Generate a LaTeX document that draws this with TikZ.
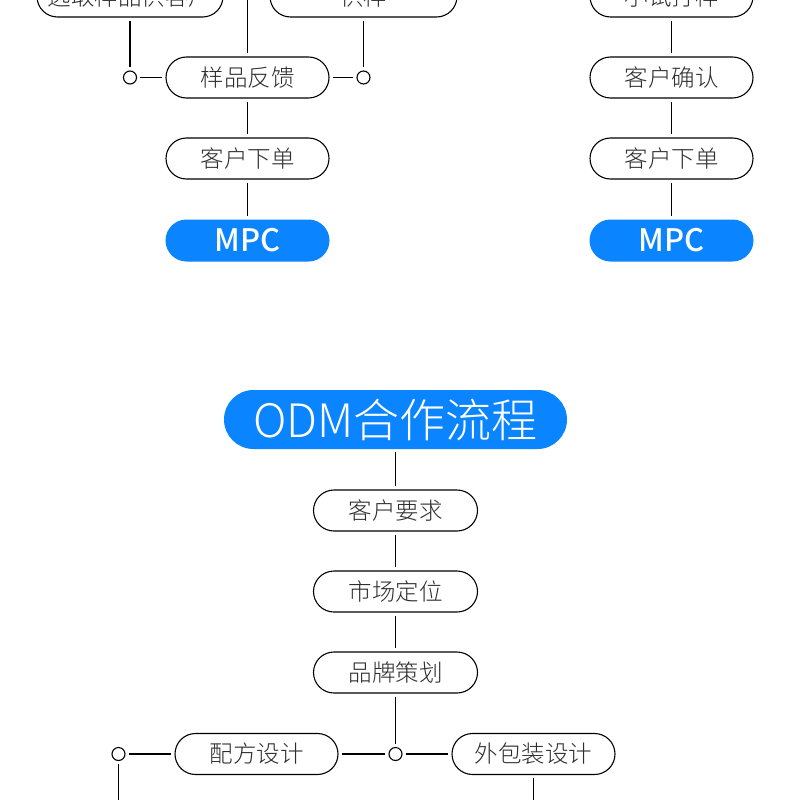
\documentclass[tikz,border=0pt]{standalone}
\usepackage{fontspec}
\setmainfont{Noto Sans CJK SC}
\newfontfamily\lightcjk{Noto Sans CJK SC Light}
\newfontfamily\mediumcjk{Noto Sans CJK SC Medium}
\usetikzlibrary{positioning}
\definecolor{odmblue}{RGB}{10, 132, 255}
\definecolor{labelgray}{RGB}{45, 45, 45}

\begin{document}
\begin{tikzpicture}[x=1pt, y=-1pt]
    \tikzstyle{stage} = [rectangle, rounded corners=20.5pt, minimum width=163pt, minimum height=41pt, inner sep=0pt, text centered, draw=black, line width=1.1pt, text=labelgray, font=\fontsize{23.5}{23.5}\selectfont\lightcjk]
    \tikzstyle{final} = [rectangle, rounded corners=21pt, minimum width=164pt, minimum height=42pt, inner sep=0pt, text centered, fill=odmblue, text=white, font=\fontsize{31}{31}\selectfont\mediumcjk]
    \tikzstyle{joint} = [circle, draw=black, line width=1.1pt, minimum size=13pt, inner sep=0pt]
    \tikzstyle{link} = [line width=1.1pt, shorten >=3pt, shorten <=3pt]

    \useasboundingbox (0,0) rectangle (790,800);
    \clip (0,0) rectangle (790,800);

    % OEM, left column
    \node (xuanqu) [stage, minimum width=186pt] at (130,-3.5) {选取样品供客户};
    \node (gongyang) [stage, minimum width=187pt] at (363.5,-3.5) {供样};
    \node (fankui) [stage] at (247.5,77.5) {样品反馈};
    \node (xiadanL) [stage] at (247.5,158.5) {客户下单};
    \node (mpcL) [final] at (247.5,240.5) {MPC};
    \node (jointA) [joint] at (130,77.5) {};
    \node (jointB) [joint] at (363.5,77.5) {};
    \coordinate (feedL) at (247.5,-6);

    \draw [link] (feedL) -- (fankui);
    \draw [link] (xuanqu) -- (jointA);
    \draw [link] (jointA) -- (fankui);
    \draw [link] (gongyang) -- (jointB);
    \draw [link] (jointB) -- (fankui);
    \draw [link] (fankui) -- (xiadanL);
    \draw [link] (xiadanL) -- (mpcL);

    % OEM, right column
    \node (xiaoshi) [stage] at (671.5,-3.5) {小试打样};
    \node (queren) [stage] at (671.5,77.5) {客户确认};
    \node (xiadanR) [stage] at (671.5,158.5) {客户下单};
    \node (mpcR) [final] at (671.5,240.5) {MPC};

    \draw [link] (xiaoshi) -- (queren);
    \draw [link] (queren) -- (xiadanR);
    \draw [link] (xiadanR) -- (mpcR);

    % ODM
    \node (odm) [final, minimum width=343pt, minimum height=59pt, rounded corners=29.5pt, font=\fontsize{46}{46}\selectfont\lightcjk] at (395.5,419.5) {ODM合作流程};
    \node (yaoqiu) [stage, minimum width=164pt] at (395.5,510.5) {客户要求};
    \node (dingwei) [stage, minimum width=164pt] at (395.5,591.5) {市场定位};
    \node (cehua) [stage, minimum width=164pt] at (395.5,672.5) {品牌策划};
    \node (jointC) [joint] at (395.5,754) {};
    \node (peifang) [stage] at (256.5,754) {配方设计};
    \node (baozhuang) [stage] at (533.5,754) {外包装设计};
    \node (jointD) [joint] at (118.5,754) {};
    \coordinate (endL) at (118.5,808);
    \coordinate (endR) at (533.5,808);

    \draw [link] (odm) -- (yaoqiu);
    \draw [link] (yaoqiu) -- (dingwei);
    \draw [link] (dingwei) -- (cehua);
    \draw [link] (cehua) -- (jointC);
    \draw [link] (jointC) -- (peifang);
    \draw [link] (jointC) -- (baozhuang);
    \draw [link] (jointD) -- (peifang);
    \draw [link] (jointD) -- (endL);
    \draw [link] (baozhuang) -- (endR);
\end{tikzpicture}
\end{document}
